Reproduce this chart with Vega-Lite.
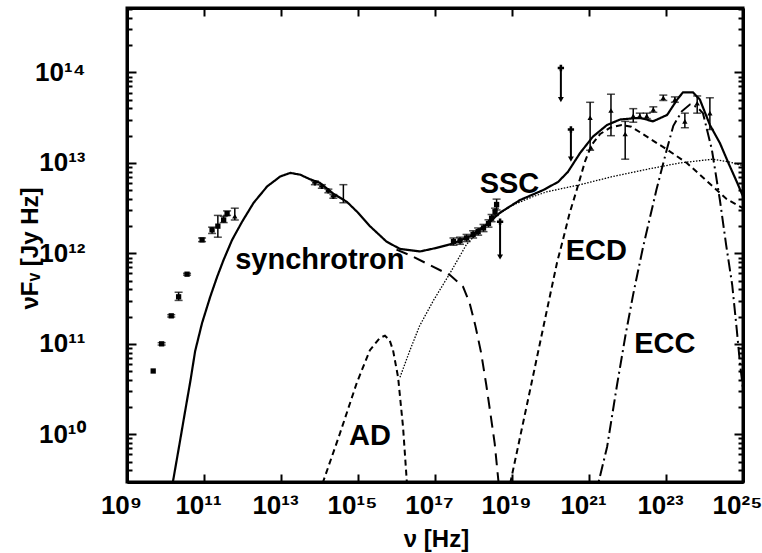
{
  "$schema": "https://vega.github.io/schema/vega-lite/v6.json",
  "width": 616,
  "height": 474,
  "autosize": {"type": "none"},
  "padding": {"left": 127, "top": 8, "right": 19, "bottom": 71},
  "background": "white",
  "config": {
    "view": {"stroke": "black", "strokeWidth": 3},
    "axis": {
      "domainColor": "black", "domainWidth": 3, "tickColor": "black", "tickWidth": 2,
      "grid": false, "labelFont": "Liberation Sans", "labelFontWeight": "bold", "labelFontSize": 26,
      "labelColor": "black", "titleFont": "Liberation Sans", "titleFontWeight": "bold",
      "titleFontSize": 24, "titleColor": "black", "labelOverlap": false, "labelFlush": false
    }
  },
  "datasets": {
    "curves": [
      {"series": "total", "nu": 1.41e10, "f": 2.34e9},
      {"series": "total", "nu": 1.55e10, "f": 2.95e9},
      {"series": "total", "nu": 2.24e10, "f": 7.24e9},
      {"series": "total", "nu": 3.16e10, "f": 1.70e10},
      {"series": "total", "nu": 4.47e10, "f": 3.98e10},
      {"series": "total", "nu": 5.89e10, "f": 8.32e10},
      {"series": "total", "nu": 8.91e10, "f": 1.70e11},
      {"series": "total", "nu": 1.45e11, "f": 3.31e11},
      {"series": "total", "nu": 2.19e11, "f": 5.50e11},
      {"series": "total", "nu": 3.24e11, "f": 8.51e11},
      {"series": "total", "nu": 5.37e11, "f": 1.41e12},
      {"series": "total", "nu": 9.77e11, "f": 2.24e12},
      {"series": "total", "nu": 1.95e12, "f": 3.63e12},
      {"series": "total", "nu": 4.37e12, "f": 5.50e12},
      {"series": "total", "nu": 9.55e12, "f": 7.08e12},
      {"series": "total", "nu": 1.74e13, "f": 7.76e12},
      {"series": "total", "nu": 3.16e13, "f": 7.41e12},
      {"series": "total", "nu": 5.62e13, "f": 6.61e12},
      {"series": "total", "nu": 1.02e14, "f": 6.03e12},
      {"series": "total", "nu": 2.29e14, "f": 4.57e12},
      {"series": "total", "nu": 5.13e14, "f": 3.72e12},
      {"series": "total", "nu": 1.00e15, "f": 2.82e12},
      {"series": "total", "nu": 2.04e15, "f": 2.00e12},
      {"series": "total", "nu": 5.50e15, "f": 1.35e12},
      {"series": "total", "nu": 1.23e16, "f": 1.12e12},
      {"series": "total", "nu": 4.07e16, "f": 1.05e12},
      {"series": "total", "nu": 1.10e17, "f": 1.15e12},
      {"series": "total", "nu": 3.02e17, "f": 1.29e12},
      {"series": "total", "nu": 8.13e17, "f": 1.55e12},
      {"series": "total", "nu": 2.19e18, "f": 2.09e12},
      {"series": "total", "nu": 4.90e18, "f": 2.82e12},
      {"series": "total", "nu": 1.62e19, "f": 3.89e12},
      {"series": "total", "nu": 6.46e19, "f": 5.01e12},
      {"series": "total", "nu": 1.58e20, "f": 6.17e12},
      {"series": "total", "nu": 2.82e20, "f": 7.94e12},
      {"series": "total", "nu": 5.89e20, "f": 1.29e13},
      {"series": "total", "nu": 1.26e21, "f": 1.95e13},
      {"series": "total", "nu": 2.95e21, "f": 2.63e13},
      {"series": "total", "nu": 6.46e21, "f": 3.02e13},
      {"series": "total", "nu": 2.09e22, "f": 3.16e13},
      {"series": "total", "nu": 4.57e22, "f": 2.88e13},
      {"series": "total", "nu": 1.07e23, "f": 3.39e13},
      {"series": "total", "nu": 1.95e23, "f": 5.01e13},
      {"series": "total", "nu": 2.75e23, "f": 6.03e13},
      {"series": "total", "nu": 5.01e23, "f": 6.03e13},
      {"series": "total", "nu": 7.59e23, "f": 5.01e13},
      {"series": "total", "nu": 1.38e24, "f": 2.63e13},
      {"series": "total", "nu": 2.51e24, "f": 1.66e13},
      {"series": "total", "nu": 4.17e24, "f": 1.00e13},
      {"series": "total", "nu": 7.08e24, "f": 6.03e12},
      {"series": "total", "nu": 1.00e25, "f": 4.27e12},

      {"series": "sync", "nu": 1.00e16, "f": 1.10e12},
      {"series": "sync", "nu": 2.51e16, "f": 9.33e11},
      {"series": "sync", "nu": 7.41e16, "f": 7.41e11},
      {"series": "sync", "nu": 2.45e17, "f": 5.75e11},
      {"series": "sync", "nu": 5.37e17, "f": 4.27e11},
      {"series": "sync", "nu": 7.94e17, "f": 2.82e11},
      {"series": "sync", "nu": 1.12e18, "f": 1.58e11},
      {"series": "sync", "nu": 1.58e18, "f": 7.94e10},
      {"series": "sync", "nu": 2.14e18, "f": 3.55e10},
      {"series": "sync", "nu": 2.82e18, "f": 1.58e10},
      {"series": "sync", "nu": 3.55e18, "f": 7.94e9},
      {"series": "sync", "nu": 4.47e18, "f": 2.95e9},
      {"series": "sync", "nu": 5.01e18, "f": 2.00e9},

      {"series": "ssc", "nu": 1.23e16, "f": 4.27e10},
      {"series": "ssc", "nu": 2.24e16, "f": 8.51e10},
      {"series": "ssc", "nu": 3.98e16, "f": 1.58e11},
      {"series": "ssc", "nu": 9.12e16, "f": 3.02e11},
      {"series": "ssc", "nu": 2.45e17, "f": 6.03e11},
      {"series": "ssc", "nu": 6.61e17, "f": 1.26e12},
      {"series": "ssc", "nu": 1.58e18, "f": 1.86e12},
      {"series": "ssc", "nu": 3.98e18, "f": 2.63e12},
      {"series": "ssc", "nu": 1.00e19, "f": 3.39e12},
      {"series": "ssc", "nu": 3.16e19, "f": 4.17e12},
      {"series": "ssc", "nu": 7.94e19, "f": 4.79e12},
      {"series": "ssc", "nu": 5.89e20, "f": 5.75e12},
      {"series": "ssc", "nu": 4.17e21, "f": 7.08e12},
      {"series": "ssc", "nu": 3.24e22, "f": 8.51e12},
      {"series": "ssc", "nu": 2.29e23, "f": 1.00e13},
      {"series": "ssc", "nu": 1.66e24, "f": 1.10e13},
      {"series": "ssc", "nu": 4.57e24, "f": 1.02e13},
      {"series": "ssc", "nu": 1.00e25, "f": 9.33e12},

      {"series": "ad", "nu": 1.05e14, "f": 2.24e9},
      {"series": "ad", "nu": 1.23e14, "f": 2.95e9},
      {"series": "ad", "nu": 3.39e14, "f": 1.02e10},
      {"series": "ad", "nu": 9.33e14, "f": 3.72e10},
      {"series": "ad", "nu": 2.04e15, "f": 8.51e10},
      {"series": "ad", "nu": 3.72e15, "f": 1.17e11},
      {"series": "ad", "nu": 5.01e15, "f": 1.23e11},
      {"series": "ad", "nu": 6.61e15, "f": 1.10e11},
      {"series": "ad", "nu": 8.13e15, "f": 8.51e10},
      {"series": "ad", "nu": 1.10e16, "f": 4.27e10},
      {"series": "ad", "nu": 1.48e16, "f": 1.20e10},
      {"series": "ad", "nu": 1.86e16, "f": 2.95e9},
      {"series": "ad", "nu": 2.00e16, "f": 2.00e9},

      {"series": "ecd", "nu": 7.94e18, "f": 2.24e9},
      {"series": "ecd", "nu": 9.12e18, "f": 2.95e9},
      {"series": "ecd", "nu": 3.16e19, "f": 3.55e10},
      {"series": "ecd", "nu": 8.71e19, "f": 2.75e11},
      {"series": "ecd", "nu": 1.48e20, "f": 7.94e11},
      {"series": "ecd", "nu": 2.14e20, "f": 1.45e12},
      {"series": "ecd", "nu": 3.16e20, "f": 2.82e12},
      {"series": "ecd", "nu": 4.79e20, "f": 5.01e12},
      {"series": "ecd", "nu": 7.94e20, "f": 1.05e13},
      {"series": "ecd", "nu": 1.17e21, "f": 1.58e13},
      {"series": "ecd", "nu": 1.95e21, "f": 2.09e13},
      {"series": "ecd", "nu": 3.55e21, "f": 2.45e13},
      {"series": "ecd", "nu": 7.08e21, "f": 2.63e13},
      {"series": "ecd", "nu": 1.26e22, "f": 2.51e13},
      {"series": "ecd", "nu": 3.80e22, "f": 1.86e13},
      {"series": "ecd", "nu": 1.05e23, "f": 1.41e13},
      {"series": "ecd", "nu": 3.47e23, "f": 1.00e13},
      {"series": "ecd", "nu": 1.15e24, "f": 6.31e12},
      {"series": "ecd", "nu": 3.80e24, "f": 3.98e12},
      {"series": "ecd", "nu": 1.00e25, "f": 3.16e12},

      {"series": "ecc", "nu": 1.51e21, "f": 2.00e9},
      {"series": "ecc", "nu": 1.70e21, "f": 2.75e9},
      {"series": "ecc", "nu": 2.95e21, "f": 7.24e9},
      {"series": "ecc", "nu": 5.37e21, "f": 3.55e10},
      {"series": "ecc", "nu": 8.91e21, "f": 1.26e11},
      {"series": "ecc", "nu": 1.41e22, "f": 3.55e11},
      {"series": "ecc", "nu": 2.51e22, "f": 1.15e12},
      {"series": "ecc", "nu": 5.62e22, "f": 5.01e12},
      {"series": "ecc", "nu": 1.05e23, "f": 1.41e13},
      {"series": "ecc", "nu": 1.55e23, "f": 2.57e13},
      {"series": "ecc", "nu": 2.57e23, "f": 3.72e13},
      {"series": "ecc", "nu": 4.17e23, "f": 4.42e13},
      {"series": "ecc", "nu": 6.31e23, "f": 4.17e13},
      {"series": "ecc", "nu": 9.12e23, "f": 3.55e13},
      {"series": "ecc", "nu": 1.55e24, "f": 1.41e13},
      {"series": "ecc", "nu": 2.51e24, "f": 3.89e12},
      {"series": "ecc", "nu": 3.63e24, "f": 1.26e12},
      {"series": "ecc", "nu": 5.25e24, "f": 4.47e11},
      {"series": "ecc", "nu": 6.92e24, "f": 1.41e11},
      {"series": "ecc", "nu": 8.32e24, "f": 6.17e10},
      {"series": "ecc", "nu": 1.00e25, "f": 3.16e10}
    ],
    "obs": [
      {"band": "radio", "nu": 4.79e9, "f": 5.01e10},
      {"band": "radio", "nu": 7.94e9, "f": 1.00e11, "lo": 0.97e11, "hi": 1.03e11},
      {"band": "radio", "nu": 1.41e10, "f": 2.04e11, "lo": 1.98e11, "hi": 2.10e11},
      {"band": "radio", "nu": 2.19e10, "f": 3.31e11, "lo": 3.02e11, "hi": 3.72e11},
      {"band": "radio", "nu": 3.63e10, "f": 5.89e11, "lo": 5.75e11, "hi": 6.03e11},
      {"band": "radio", "nu": 8.91e10, "f": 1.41e12, "lo": 1.35e12, "hi": 1.48e12},
      {"band": "radio", "nu": 1.62e11, "f": 1.82e12, "lo": 1.66e12, "hi": 1.95e12},
      {"band": "radio", "nu": 2.29e11, "f": 2.00e12, "lo": 1.51e12, "hi": 2.63e12},
      {"band": "radio", "nu": 3.24e11, "f": 2.34e12, "lo": 2.19e12, "hi": 2.57e12},
      {"band": "radio", "nu": 3.98e11, "f": 2.75e12, "lo": 2.63e12, "hi": 2.95e12},
      {"band": "gamma", "nu": 6.31e11, "f": 2.57e12, "lo": 2.34e12, "hi": 3.16e12},
      {"band": "optical", "nu": 7.59e13, "f": 6.03e12, "lo": 5.75e12, "hi": 6.31e12},
      {"band": "optical", "nu": 1.15e14, "f": 5.50e12, "lo": 5.25e12, "hi": 5.75e12},
      {"band": "optical", "nu": 1.70e14, "f": 4.90e12, "lo": 4.68e12, "hi": 5.13e12},
      {"band": "optical", "nu": 2.29e14, "f": 4.27e12, "lo": 4.07e12, "hi": 4.47e12},
      {"band": "bar", "nu": 4.17e14, "f": 4.57e12, "lo": 3.63e12, "hi": 5.75e12},
      {"band": "xray", "nu": 3.02e17, "f": 1.35e12, "lo": 1.23e12, "hi": 1.48e12},
      {"band": "xray", "nu": 4.47e17, "f": 1.38e12, "lo": 1.26e12, "hi": 1.51e12},
      {"band": "xray", "nu": 6.61e17, "f": 1.48e12, "lo": 1.35e12, "hi": 1.62e12},
      {"band": "xray", "nu": 9.77e17, "f": 1.62e12, "lo": 1.48e12, "hi": 1.78e12},
      {"band": "xray", "nu": 1.32e18, "f": 1.74e12, "lo": 1.59e12, "hi": 1.91e12},
      {"band": "xray", "nu": 1.82e18, "f": 1.91e12, "lo": 1.74e12, "hi": 2.09e12},
      {"band": "xray", "nu": 2.45e18, "f": 2.14e12, "lo": 1.95e12, "hi": 2.35e12},
      {"band": "xray", "nu": 2.95e18, "f": 2.45e12, "lo": 2.24e12, "hi": 2.69e12},
      {"band": "xray", "nu": 3.63e18, "f": 2.88e12, "lo": 2.63e12, "hi": 3.16e12},
      {"band": "xray", "nu": 3.98e18, "f": 3.47e12, "lo": 3.02e12, "hi": 3.98e12},
      {"band": "gamma", "nu": 1.07e21, "f": 3.16e13, "lo": 1.38e13, "hi": 4.68e13},
      {"band": "gamma", "nu": 1.12e21, "f": 1.48e13},
      {"band": "gamma", "nu": 3.72e21, "f": 3.80e13, "lo": 2.00e13, "hi": 5.75e13},
      {"band": "gamma", "nu": 8.71e21, "f": 2.09e13, "lo": 1.10e13, "hi": 2.88e13},
      {"band": "gamma", "nu": 1.41e22, "f": 3.31e13, "lo": 2.82e13, "hi": 3.98e13},
      {"band": "gamma", "nu": 2.09e22, "f": 3.31e13, "lo": 3.09e13, "hi": 3.55e13},
      {"band": "gamma", "nu": 3.16e22, "f": 3.31e13, "lo": 3.09e13, "hi": 3.55e13},
      {"band": "gamma", "nu": 4.68e22, "f": 3.89e13, "lo": 3.63e13, "hi": 4.17e13},
      {"band": "gamma", "nu": 8.51e22, "f": 5.25e13, "lo": 4.90e13, "hi": 5.62e13},
      {"band": "gamma", "nu": 1.70e23, "f": 5.01e13, "lo": 4.68e13, "hi": 5.37e13},
      {"band": "gamma", "nu": 3.09e23, "f": 2.88e13, "lo": 2.45e13, "hi": 3.55e13},
      {"band": "gamma", "nu": 6.46e23, "f": 4.57e13, "lo": 3.55e13, "hi": 5.50e13},
      {"band": "gamma", "nu": 1.38e24, "f": 3.55e13, "lo": 2.34e13, "hi": 5.25e13}
    ],
    "ul": [
      {"nu": 4.90e18, "f": 2.24e12, "tip": 9.12e11},
      {"nu": 1.86e20, "f": 1.12e14, "tip": 5.01e13},
      {"nu": 3.39e20, "f": 2.34e13, "tip": 1.10e13}
    ],
    "labels": [
      {"text": "synchrotron", "nu": 1.02e14, "f": 6.76e11},
      {"text": "SSC", "nu": 8.61e18, "f": 4.68e12},
      {"text": "ECD", "nu": 1.55e21, "f": 8.51e11},
      {"text": "AD", "nu": 2.04e15, "f": 7.55e9},
      {"text": "ECC", "nu": 9.33e22, "f": 7.83e10}
    ]
  },
  "layer": [
    {
      "data": {"name": "curves"},
      "mark": {"type": "line", "clip": true, "color": "black"},
      "encoding": {
        "x": {
          "field": "nu", "type": "quantitative",
          "scale": {"type": "log", "domain": [1e9, 1e25], "nice": false},
          "axis": {
            "orient": "bottom", "domainColor": "black", "domainWidth": 3, "tickColor": "black", "tickWidth": 2,
            "values": [1e9, 1e11, 1e13, 1e15, 1e17, 1e19, 1e21, 1e23, 1e25],
            "tickSize": -8, "labelPadding": 39, "labelBaseline": "alphabetic", "labelOffset": -6,
            "labelExpr": "'10' + (round(log(datum.value)/LN10) >= 10 ? substring('⁰¹²³⁴⁵⁶⁷⁸⁹', floor(round(log(datum.value)/LN10)/10), floor(round(log(datum.value)/LN10)/10)+1) : '') + substring('⁰¹²³⁴⁵⁶⁷⁸⁹', round(log(datum.value)/LN10)%10, round(log(datum.value)/LN10)%10+1)",
            "title": "ν [Hz]", "titleX": 309, "titleY": 64, "titleAlign": "center", "titleBaseline": "alphabetic"
          }
        },
        "y": {
          "field": "f", "type": "quantitative",
          "scale": {"type": "log", "domain": [2.97e9, 5.16e14], "nice": false},
          "axis": {
            "orient": "left", "domainColor": "black", "domainWidth": 3, "tickColor": "black", "tickWidth": 2,
            "values": [3e9, 4e9, 5e9, 6e9, 7e9, 8e9, 9e9, 1e10, 2e10, 3e10, 4e10, 5e10, 6e10, 7e10, 8e10, 9e10, 1e11, 2e11, 3e11, 4e11, 5e11, 6e11, 7e11, 8e11, 9e11, 1e12, 2e12, 3e12, 4e12, 5e12, 6e12, 7e12, 8e12, 9e12, 1e13, 2e13, 3e13, 4e13, 5e13, 6e13, 7e13, 8e13, 9e13, 1e14, 2e14, 3e14, 4e14, 5e14],
            "tickSize": {"condition": {"test": "datum.value == 1e10 || datum.value == 1e11 || datum.value == 1e12 || datum.value == 1e13 || datum.value == 1e14", "value": -9}, "value": -5},
            "labelPadding": 51, "labelBaseline": "middle", "labelAlign": "right",
            "labelExpr": "abs(log(datum.value)/LN10 - round(log(datum.value)/LN10)) < 0.001 ? '10' + substring('⁰¹²³⁴⁵⁶⁷⁸⁹', floor(round(log(datum.value)/LN10)/10), floor(round(log(datum.value)/LN10)/10)+1) + substring('⁰¹²³⁴⁵⁶⁷⁸⁹', round(log(datum.value)/LN10)%10, round(log(datum.value)/LN10)%10+1) : ''",
            "title": "νFᵥ [Jy Hz]", "titleX": -90, "titleY": 240, "titleAngle": -90, "titleAlign": "center", "titleBaseline": "alphabetic"
          }
        },
        "detail": {"field": "series"},
        "strokeDash": {
          "field": "series", "type": "nominal", "legend": null,
          "scale": {"domain": ["total", "sync", "ssc", "ad", "ecd", "ecc"], "range": [[1, 0], [12, 7], [1.5, 1.5], [6, 4], [6, 4], [12, 4, 2, 4]]}
        },
        "strokeWidth": {
          "field": "series", "type": "nominal", "legend": null,
          "scale": {"type": "ordinal", "domain": ["total", "sync", "ssc", "ad", "ecd", "ecc"], "range": [2.2, 2, 1.3, 2, 2, 2]}
        }
      }
    },
    {
      "data": {"name": "obs"},
      "transform": [{"filter": "isValid(datum.lo)"}],
      "mark": {"type": "rule", "color": "black", "strokeWidth": 1.5},
      "encoding": {
        "x": {"field": "nu", "type": "quantitative", "axis": null},
        "y": {"field": "lo", "type": "quantitative", "axis": null},
        "y2": {"field": "hi"}
      }
    },
    {
      "data": {"name": "obs"},
      "transform": [{"filter": "isValid(datum.lo)"}],
      "mark": {"type": "tick", "orient": "horizontal", "color": "black", "size": 8, "thickness": 1.5},
      "encoding": {
        "x": {"field": "nu", "type": "quantitative", "axis": null},
        "y": {"field": "lo", "type": "quantitative", "axis": null}
      }
    },
    {
      "data": {"name": "obs"},
      "transform": [{"filter": "isValid(datum.hi)"}],
      "mark": {"type": "tick", "orient": "horizontal", "color": "black", "size": 8, "thickness": 1.5},
      "encoding": {
        "x": {"field": "nu", "type": "quantitative", "axis": null},
        "y": {"field": "hi", "type": "quantitative", "axis": null}
      }
    },
    {
      "data": {"name": "obs"},
      "transform": [{"filter": "datum.band !== 'bar'"}],
      "mark": {"type": "point", "filled": true, "color": "black", "opacity": 1, "size": 28},
      "encoding": {
        "x": {"field": "nu", "type": "quantitative", "axis": null},
        "y": {"field": "f", "type": "quantitative", "axis": null},
        "shape": {
          "field": "band", "type": "nominal", "legend": null,
          "scale": {"domain": ["radio", "optical", "xray", "gamma"], "range": ["square", "cross", "square", "triangle-up"]}
        }
      }
    },
    {
      "data": {"name": "ul"},
      "mark": {"type": "rule", "color": "black", "strokeWidth": 2},
      "encoding": {
        "x": {"field": "nu", "type": "quantitative", "axis": null},
        "y": {"field": "f", "type": "quantitative", "axis": null},
        "y2": {"field": "tip"}
      }
    },
    {
      "data": {"name": "ul"},
      "mark": {"type": "point", "shape": "triangle-down", "filled": true, "color": "black", "opacity": 1, "size": 35},
      "encoding": {
        "x": {"field": "nu", "type": "quantitative", "axis": null},
        "y": {"field": "tip", "type": "quantitative", "axis": null}
      }
    },
    {
      "data": {"name": "ul"},
      "mark": {"type": "point", "shape": "cross", "filled": true, "color": "black", "opacity": 1, "size": 40},
      "encoding": {
        "x": {"field": "nu", "type": "quantitative", "axis": null},
        "y": {"field": "f", "type": "quantitative", "axis": null}
      }
    },
    {
      "data": {"name": "labels"},
      "mark": {"type": "text", "font": "Liberation Sans", "fontWeight": "bold", "fontSize": 29, "align": "center", "baseline": "alphabetic", "color": "black"},
      "encoding": {
        "x": {
          "field": "nu", "type": "quantitative",
          "axis": {"orient": "top", "domainColor": "black", "domainWidth": 3, "tickColor": "black", "tickWidth": 2, "values": [1e9, 1e11, 1e13, 1e15, 1e17, 1e19, 1e21, 1e23, 1e25], "labels": false, "title": null, "tickSize": -8}
        },
        "y": {
          "field": "f", "type": "quantitative",
          "axis": {
            "orient": "right", "domainColor": "black", "domainWidth": 3, "tickColor": "black", "tickWidth": 2, "labels": false, "title": null,
            "values": [3e9, 4e9, 5e9, 6e9, 7e9, 8e9, 9e9, 1e10, 2e10, 3e10, 4e10, 5e10, 6e10, 7e10, 8e10, 9e10, 1e11, 2e11, 3e11, 4e11, 5e11, 6e11, 7e11, 8e11, 9e11, 1e12, 2e12, 3e12, 4e12, 5e12, 6e12, 7e12, 8e12, 9e12, 1e13, 2e13, 3e13, 4e13, 5e13, 6e13, 7e13, 8e13, 9e13, 1e14, 2e14, 3e14, 4e14, 5e14],
            "tickSize": {"condition": {"test": "datum.value == 1e10 || datum.value == 1e11 || datum.value == 1e12 || datum.value == 1e13 || datum.value == 1e14", "value": -9}, "value": -5}
          }
        },
        "text": {"field": "text"}
      }
    }
  ],
  "resolve": {"axis": {"x": "independent", "y": "independent"}}
}
